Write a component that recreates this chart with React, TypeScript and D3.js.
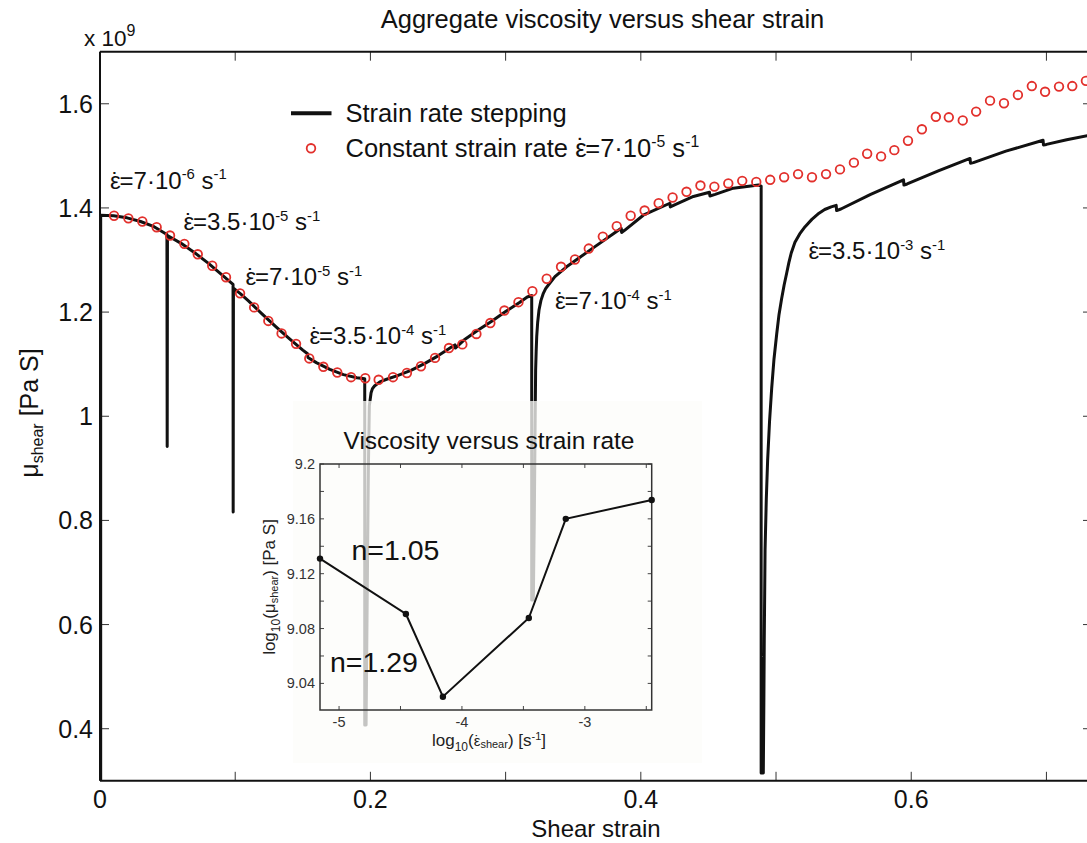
import React from 'react';
import * as d3 from 'd3';

// ---------- data ----------
const xTicks = [0, 0.1, 0.2, 0.3, 0.4, 0.5, 0.6, 0.7];
const xTickLabels = ['0', '', '0.2', '', '0.4', '', '0.6', ''];
const yTicks = [0.4, 0.6, 0.8, 1.0, 1.2, 1.4, 1.6];
const yTickLabels = ['0.4', '0.6', '0.8', '1', '1.2', '1.4', '1.6'];

// strain-rate stepping curve: [shear strain, viscosity (x1e9 Pa s)]
const steppingData: [number, number][] = [
  [0.0005, 0.30], [0.0005, 1.386], [0.010, 1.385], [0.020, 1.381], [0.030, 1.374],
  [0.040, 1.364], [0.0495, 1.349], [0.0497, 0.942], [0.0499, 1.347], [0.060, 1.332],
  [0.070, 1.314], [0.080, 1.294], [0.090, 1.272], [0.0984, 1.253], [0.0985, 0.816],
  [0.0987, 1.246], [0.104, 1.235], [0.110, 1.221], [0.120, 1.196], [0.130, 1.172],
  [0.140, 1.149], [0.150, 1.127], [0.1535, 1.120], [0.1538, 1.113], [0.160, 1.103],
  [0.170, 1.090], [0.180, 1.080], [0.190, 1.074], [0.1958, 1.072], [0.1958, 0.407],
  [0.1968, 0.407], [0.1978, 0.70], [0.1985, 0.90], [0.1992, 1.02], [0.2005, 1.045],
  [0.2015, 1.053], [0.203, 1.058], [0.207, 1.066], [0.212, 1.071], [0.220, 1.078],
  [0.230, 1.088], [0.240, 1.101], [0.250, 1.116], [0.260, 1.133], [0.2625, 1.137],
  [0.2628, 1.131], [0.270, 1.148], [0.280, 1.166], [0.290, 1.183], [0.300, 1.201],
  [0.310, 1.218], [0.316, 1.229], [0.3193, 1.232], [0.3193, 0.647], [0.3205, 0.647],
  [0.3212, 0.80], [0.3217, 0.95], [0.3222, 1.089], [0.3226, 1.125], [0.3230, 1.153],
  [0.3237, 1.180], [0.3247, 1.204], [0.3261, 1.222], [0.3279, 1.236], [0.3296, 1.245],
  [0.3316, 1.252], [0.3365, 1.268], [0.3451, 1.287], [0.3624, 1.319], [0.3855, 1.361],
  [0.3858, 1.353], [0.388, 1.357], [0.4018, 1.386], [0.4215, 1.409], [0.4218, 1.402],
  [0.425, 1.406], [0.4389, 1.422], [0.4508, 1.430], [0.4511, 1.423], [0.455, 1.426],
  [0.4684, 1.438], [0.487, 1.444], [0.489, 1.442], [0.489, 0.315], [0.4906, 0.315],
  [0.4910, 0.45], [0.4913, 0.571], [0.4919, 0.744], [0.4928, 0.84], [0.4938, 0.916],
  [0.4952, 0.99], [0.4968, 1.054], [0.4985, 1.11], [0.5005, 1.158], [0.5022, 1.195],
  [0.5041, 1.225], [0.5060, 1.252], [0.5079, 1.275], [0.5095, 1.295], [0.5112, 1.313],
  [0.5140, 1.334], [0.5175, 1.350], [0.5215, 1.364], [0.5265, 1.378], [0.5318, 1.390],
  [0.5360, 1.397], [0.5408, 1.402], [0.5445, 1.405], [0.5448, 1.395], [0.548, 1.398],
  [0.570, 1.426], [0.5943, 1.454], [0.5946, 1.444], [0.597, 1.446], [0.620, 1.471],
  [0.6435, 1.495], [0.6438, 1.486], [0.646, 1.487], [0.670, 1.509], [0.6975, 1.530],
  [0.6978, 1.521], [0.700, 1.522], [0.715, 1.531], [0.735, 1.541],
];

const constantStrain = [
  0.0104, 0.0210, 0.0313, 0.0419, 0.0518, 0.0624, 0.0723, 0.0830, 0.0932, 0.1036,
  0.1140, 0.1245, 0.1343, 0.1450, 0.1548, 0.1652, 0.1755, 0.1857, 0.1962, 0.2061,
  0.2167, 0.2270, 0.2374, 0.2478, 0.2581, 0.2680, 0.2784, 0.2887, 0.2991, 0.3095,
  0.3198, 0.3304, 0.3410, 0.3513, 0.3615, 0.3719, 0.3822, 0.3925, 0.4028, 0.4132,
  0.4235, 0.4338, 0.4441, 0.4544, 0.4647, 0.4750, 0.4854, 0.4957, 0.5060, 0.5163,
  0.5266, 0.5370, 0.5473, 0.5576, 0.5674, 0.5777, 0.5875, 0.5976, 0.6079, 0.6182,
  0.6278, 0.6381, 0.6480, 0.6583, 0.6686, 0.6789, 0.6892, 0.6990, 0.7093, 0.7191,
  0.7292,
];
const constantViscosity = [
  1.385, 1.380, 1.374, 1.363, 1.347, 1.331, 1.311, 1.289, 1.267, 1.236,
  1.209, 1.183, 1.159, 1.139, 1.111, 1.095, 1.084, 1.075, 1.073, 1.070,
  1.075, 1.083, 1.096, 1.112, 1.131, 1.138, 1.158, 1.179, 1.203, 1.219,
  1.240, 1.264, 1.287, 1.301, 1.322, 1.345, 1.365, 1.385, 1.395, 1.409,
  1.420, 1.431, 1.443, 1.441, 1.447, 1.452, 1.450, 1.454, 1.459, 1.465,
  1.459, 1.465, 1.474, 1.487, 1.504, 1.499, 1.511, 1.529, 1.551, 1.575,
  1.574, 1.568, 1.585, 1.606, 1.601, 1.617, 1.634, 1.623, 1.633, 1.634,
  1.644,
];

// inset: log10 strain rate vs log10 viscosity
const insetLogRate = [-5.155, -4.456, -4.155, -3.456, -3.155, -2.456];
const insetLogVisc = [9.131, 9.0906, 9.0303, 9.0877, 9.16, 9.1738];
const insetXTicks = [-5, -4.5, -4, -3.5, -3, -2.5];
const insetXTickLabels = ['-5', '', '-4', '', '-3', ''];
const insetYTicks = [9.04, 9.06, 9.08, 9.1, 9.12, 9.14, 9.16, 9.18, 9.2];
const insetYTickLabels = ['9.04', '', '9.08', '', '9.12', '', '9.16', '', '9.2'];

const rateMantissas = ['7', '3.5', '7', '3.5', '7', '3.5'];
const rateExponents = ['-6', '-5', '-5', '-4', '-4', '-3'];

const FONT = '"Liberation Sans", Arial, Helvetica, sans-serif';

// epsilon with a dot centred above it, as tspans
function epsDot(size: number, key: string) {
  return [
    <tspan key={key + 'e'}>{'\u03B5'}</tspan>,
    <tspan key={key + 'd'} dx={-0.38 * size}>{'\u02D9'}</tspan>,
    <tspan key={key + 'r'} dx={0.05 * size}>{''}</tspan>,
  ];
}

function RateLabel({ x, y, mant, exp, size }: { x: number; y: number; mant: string; exp: string; size: number }) {
  const up = size * 0.38;
  const sub = size * 0.62;
  return (
    <text x={x} y={y} fontSize={size} fill="#111" fontFamily={FONT}>
      {epsDot(size, 'r')}
      <tspan>{'='}{mant}{'\u00B710'}</tspan>
      <tspan dy={-up} fontSize={sub}>{exp}</tspan>
      <tspan dy={up}>{' s'}</tspan>
      <tspan dy={-up} fontSize={sub}>{'-1'}</tspan>
    </text>
  );
}

export default function App() {
  const W = 1087;
  const H = 843;
  const left = 100, right = 1092, top = 51.7, bottom = 780.8;

  const x = d3.scaleLinear().domain([0, 0.7337]).range([left, right]);
  const y = d3.scaleLinear().domain([0.3, 1.7]).range([bottom, top]);

  const line = d3.line<[number, number]>().x(d => x(d[0])).y(d => y(d[1]));

  // inset
  const iL = 320, iR = 651.7, iT = 464, iB = 710;
  const ix = d3.scaleLinear().domain([-5.155, -2.456]).range([iL, iR]);
  const iy = d3.scaleLinear().domain([9.0206, 9.2]).range([iB, iT]);
  const insetPts: [number, number][] = insetLogRate.map((r, i) => [r, insetLogVisc[i]]);
  const iline = d3.line<[number, number]>().x(d => ix(d[0])).y(d => iy(d[1]));

  const annPos = [
    [110, 188.5],
    [183.5, 230],
    [245.5, 285],
    [309.5, 344],
    [555, 309],
    [808.5, 259],
  ];

  return (
    <div style={{ width: W, height: H }}>
      <style>{`body{margin:0;}`}</style>
      <svg width={W} height={H} style={{ display: 'block', background: '#fff' }} fontFamily={FONT}>
        <defs>
          <clipPath id="plotClip">
            <rect x={left} y={top} width={right - left} height={bottom - top} />
          </clipPath>
        </defs>
        <rect x={0} y={0} width={W} height={H} fill="#fff" />

        {/* title */}
        <text x={602.5} y={28} fontSize={25.5} textAnchor="middle" fill="#111">
          Aggregate viscosity versus shear strain
        </text>
        {/* exponent */}
        <text x={84} y={46} fontSize={22.5} fill="#111">
          x 10<tspan dy={-10} fontSize={16}>9</tspan>
        </text>

        {/* ticks */}
        {xTicks.map((t, i) => (
          <g key={'xt' + i}>
            <line x1={x(t)} x2={x(t)} y1={bottom} y2={bottom - 9} stroke="#333" strokeWidth={1} />
            <line x1={x(t)} x2={x(t)} y1={top} y2={top + 9} stroke="#333" strokeWidth={1} />
            {xTickLabels[i] && (
              <text x={x(t)} y={808} fontSize={25} textAnchor="middle" fill="#111">
                {xTickLabels[i]}
              </text>
            )}
          </g>
        ))}
        {yTicks.map((t, i) => (
          <g key={'yt' + i}>
            <line x1={left} x2={left + 9} y1={y(t)} y2={y(t)} stroke="#333" strokeWidth={1} />
            <line x1={right} x2={right - 9} y1={y(t)} y2={y(t)} stroke="#333" strokeWidth={1} />
            <text x={93} y={y(t) + 9} fontSize={25} textAnchor="end" fill="#111">
              {yTickLabels[i]}
            </text>
          </g>
        ))}

        {/* axis labels */}
        <text x={596} y={837} fontSize={24} textAnchor="middle" fill="#111">
          Shear strain
        </text>
        <text transform="translate(38,413) rotate(-90)" fontSize={25} textAnchor="middle" fill="#111">
          {'\u03BC'}
          <tspan fontSize={16} dy={5}>shear</tspan>
          <tspan dy={-5}>{' [Pa S]'}</tspan>
        </text>

        {/* data */}
        <g clipPath="url(#plotClip)">
          <path d={line(steppingData) || ''} fill="none" stroke="#111" strokeWidth={3} strokeLinejoin="round" strokeLinecap="butt" />
          {constantStrain.map((s, i) => (
            <circle key={'c' + i} cx={x(s)} cy={y(constantViscosity[i])} r={4.3} fill="none" stroke="#e2302c" strokeWidth={1.8} />
          ))}
        </g>

        {/* legend */}
        <line x1={291} x2={331.5} y1={113.3} y2={113.3} stroke="#111" strokeWidth={4} />
        <text x={345.5} y={121.7} fontSize={25.5} fill="#111">Strain rate stepping</text>
        <circle cx={311} cy={148.3} r={4.3} fill="none" stroke="#e2302c" strokeWidth={1.8} />
        <text x={345.5} y={156.7} fontSize={25.5} fill="#111">
          <tspan>{'Constant strain rate '}</tspan>
          {epsDot(25.5, 'l')}
          <tspan>{'=7\u00B710'}</tspan>
          <tspan dy={-9.7} fontSize={15.8}>-5</tspan>
          <tspan dy={9.7}>{' s'}</tspan>
          <tspan dy={-9.7} fontSize={15.8}>-1</tspan>
        </text>

        {/* strain-rate annotations */}
        {annPos.map((p, i) => (
          <RateLabel key={'a' + i} x={p[0]} y={p[1]} mant={rateMantissas[i]} exp={rateExponents[i]} size={24} />
        ))}

        {/* inset backdrop */}
        <rect x={293} y={401} width={409} height={362} fill="#fdfdfa" fillOpacity={0.76} />

        {/* inset */}
        <text x={489} y={449} fontSize={24.5} textAnchor="middle" fill="#111">
          Viscosity versus strain rate
        </text>
        {insetXTicks.map((t, i) => (
          <g key={'ixt' + i}>
            <line x1={ix(t)} x2={ix(t)} y1={iB} y2={iB - 4} stroke="#444" strokeWidth={1} />
            <line x1={ix(t)} x2={ix(t)} y1={iT} y2={iT + 4} stroke="#444" strokeWidth={1} />
            {insetXTickLabels[i] && (
              <text x={ix(t)} y={727} fontSize={14.5} textAnchor="middle" fill="#333">
                {insetXTickLabels[i]}
              </text>
            )}
          </g>
        ))}
        {insetYTicks.map((t, i) => (
          <g key={'iyt' + i}>
            <line x1={iL} x2={iL + 4} y1={iy(t)} y2={iy(t)} stroke="#444" strokeWidth={1} />
            <line x1={iR} x2={iR - 4} y1={iy(t)} y2={iy(t)} stroke="#444" strokeWidth={1} />
            {insetYTickLabels[i] && (
              <text x={315} y={iy(t) + 5} fontSize={14.5} textAnchor="end" fill="#333">
                {insetYTickLabels[i]}
              </text>
            )}
          </g>
        ))}
        <rect x={iL} y={iT} width={iR - iL} height={iB - iT} fill="none" stroke="#333" strokeWidth={1.5} />
        <path d={iline(insetPts) || ''} fill="none" stroke="#111" strokeWidth={2} />
        {insetPts.map((p, i) => (
          <circle key={'ip' + i} cx={ix(p[0])} cy={iy(p[1])} r={3.2} fill="#111" />
        ))}
        <text x={351.5} y={560} fontSize={28.5} fill="#111">n=1.05</text>
        <text x={330} y={671.5} fontSize={28.5} fill="#111">n=1.29</text>
        <text x={489} y={746} fontSize={17} textAnchor="middle" fill="#222">
          log<tspan fontSize={12} dy={5}>10</tspan>
          <tspan dy={-5}>(</tspan>
          <tspan fontSize={15}>{'\u03B5'}</tspan>
          <tspan fontSize={15} dx={-6}>{'\u02D9'}</tspan>
          <tspan fontSize={11} dy={2} dx={1}>shear</tspan>
          <tspan dy={-2}>{') [s'}</tspan>
          <tspan fontSize={11} dy={-6}>-1</tspan>
          <tspan dy={6}>]</tspan>
        </text>
        <text transform="translate(275,587) rotate(-90)" fontSize={17} textAnchor="middle" fill="#222">
          log<tspan fontSize={12} dy={5}>10</tspan>
          <tspan dy={-5}>(</tspan>
          <tspan>{'\u03BC'}</tspan>
          <tspan fontSize={11} dy={3}>shear</tspan>
          <tspan dy={-3}>{') [Pa S]'}</tspan>
        </text>

        {/* main axes box */}
        <line x1={left} x2={left} y1={top} y2={bottom} stroke="#111" strokeWidth={2} />
        <line x1={left} x2={right} y1={bottom} y2={bottom} stroke="#111" strokeWidth={2} />
        <line x1={left} x2={right} y1={top} y2={top} stroke="#111" strokeWidth={2} />
        <line x1={right} x2={right} y1={top} y2={bottom} stroke="#111" strokeWidth={2} />
      </svg>
    </div>
  );
}
